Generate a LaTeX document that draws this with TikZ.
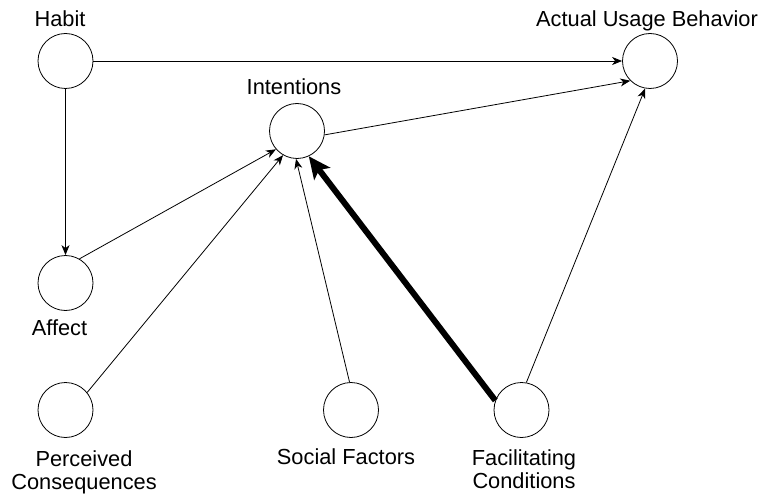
\documentclass[tikz,border=0pt]{standalone}
\usepackage{fontspec}
\setmainfont{Liberation Sans}
\usetikzlibrary{arrows.meta}
\begin{document}
\begin{tikzpicture}[x=1pt,y=-1pt,
  circ/.style={circle,draw,line width=0.8pt,minimum size=55pt,inner sep=0pt},
  lbl/.style={font=\fontsize{21.8}{23}\selectfont,inner sep=0pt,anchor=base,align=center},
  conn/.style={line width=0.8pt,-{Stealth[length=10pt,width=8pt,inset=3pt]}},
  thick conn/.style={line width=6pt,-{Stealth[length=22pt,width=20pt,inset=5pt]}}]
\useasboundingbox (0,0) rectangle (759,494);
\node[circ] (habit) at (65.5,61) {};
\node[circ] (act) at (650,61) {};
\node[circ] (int) at (297,131) {};
\node[circ] (aff) at (65.5,283) {};
\node[circ] (per) at (65.5,410) {};
\node[circ] (soc) at (351,410) {};
\node[circ] (fac) at (521.5,410) {};
\node[lbl] (thabit) at (60,27) {Habit};
\node[lbl] (tact) at (647,27) {Actual Usage Behavior};
\node[lbl] (tint) at (294,95) {Intentions};
\node[lbl] (taff) at (59.5,335) {Affect};
\node[lbl] (tper) at (84,489.5) {Perceived\\Consequences};
\node[lbl] (tsoc) at (346,464) {Social Factors};
\node[lbl] (tfac) at (524,488) {Facilitating\\Conditions};
\draw[conn] (habit.0) -- (act.180);
\draw[conn] (habit.-90) -- (aff.90);
\draw[conn] (aff.60) -- (int.-139);
\draw[conn] (per.39) -- (int.-120);
\draw[conn] (soc.93) -- (int.-92);
\draw[conn] (fac.80) -- (act.-100);
\draw[conn] (int.-8) -- (act.-135);
\draw[thick conn] (fac.160) -- (int.-65);
\end{tikzpicture}
\end{document}
